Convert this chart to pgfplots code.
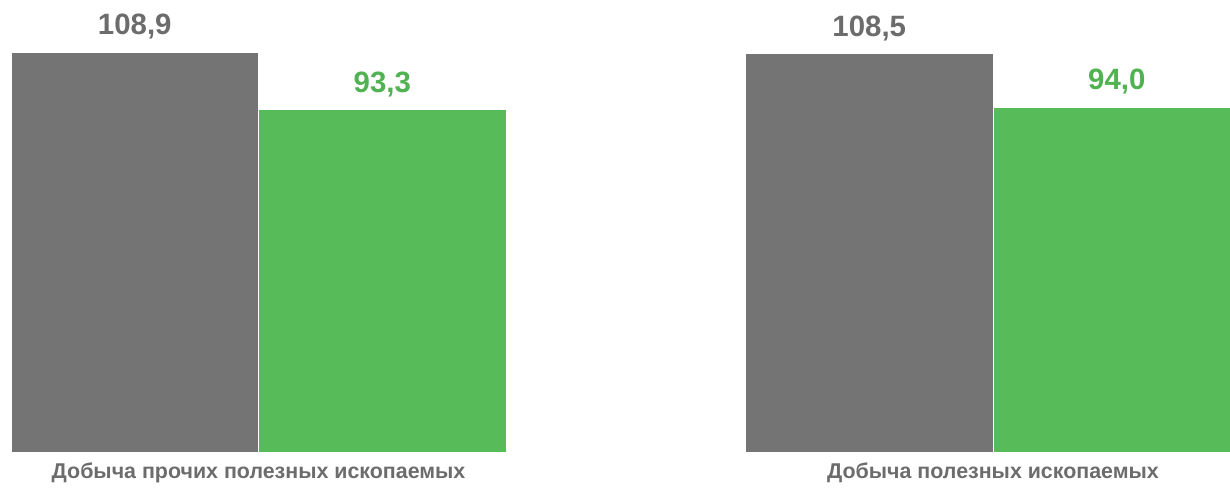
\documentclass[border=0pt]{standalone}
\usepackage{pgfplots}
\pgfplotsset{compat=1.18}
\usepackage{fontspec}
\setmainfont{Liberation Sans}
\definecolor{barGray}{RGB}{116,116,116}
\definecolor{barGreen}{RGB}{88,187,89}
\definecolor{txtGray}{RGB}{108,108,108}
\definecolor{txtGreen}{RGB}{80,178,80}

\begin{document}
\begin{tikzpicture}
\path[use as bounding box] (0,-18.15pt) rectangle (615pt,226.35pt);
\begin{axis}[
  at={(0,0)}, anchor=south west,
  scale only axis, width=615pt, height=226.35pt,
  xmin=-0.352, xmax=1.3227, ymin=0, ymax=123.1,
  ybar, bar width=0.337,
  axis line style={draw=none},
  major tick length=0pt,
  ytick=\empty,
  xtick={0,1},
  xticklabels={Добыча прочих полезных ископаемых, Добыча полезных ископаемых},
  xticklabel style={font=\bfseries\fontsize{10.7}{12}\selectfont, text=txtGray, yshift=-1.5pt},
  nodes near coords,
  nodes near coords style={font=\bfseries\fontsize{14.7}{16}\selectfont, text=txtGray, yshift=2.8pt},
  /pgf/number format/.cd, fixed, precision=1, fixed zerofill, use comma, assume math mode=true,
]
\addplot[fill=barGray, draw=white, line width=0.5pt, bar shift=-0.1685] coordinates {(0,108.9) (1,108.5)};
\addplot[fill=barGreen, draw=white, line width=0.5pt, bar shift=0.1685,
  every node near coord/.append style={text=txtGreen}] coordinates {(0,93.3) (1,94.0)};
\end{axis}
\end{tikzpicture}
\end{document}
